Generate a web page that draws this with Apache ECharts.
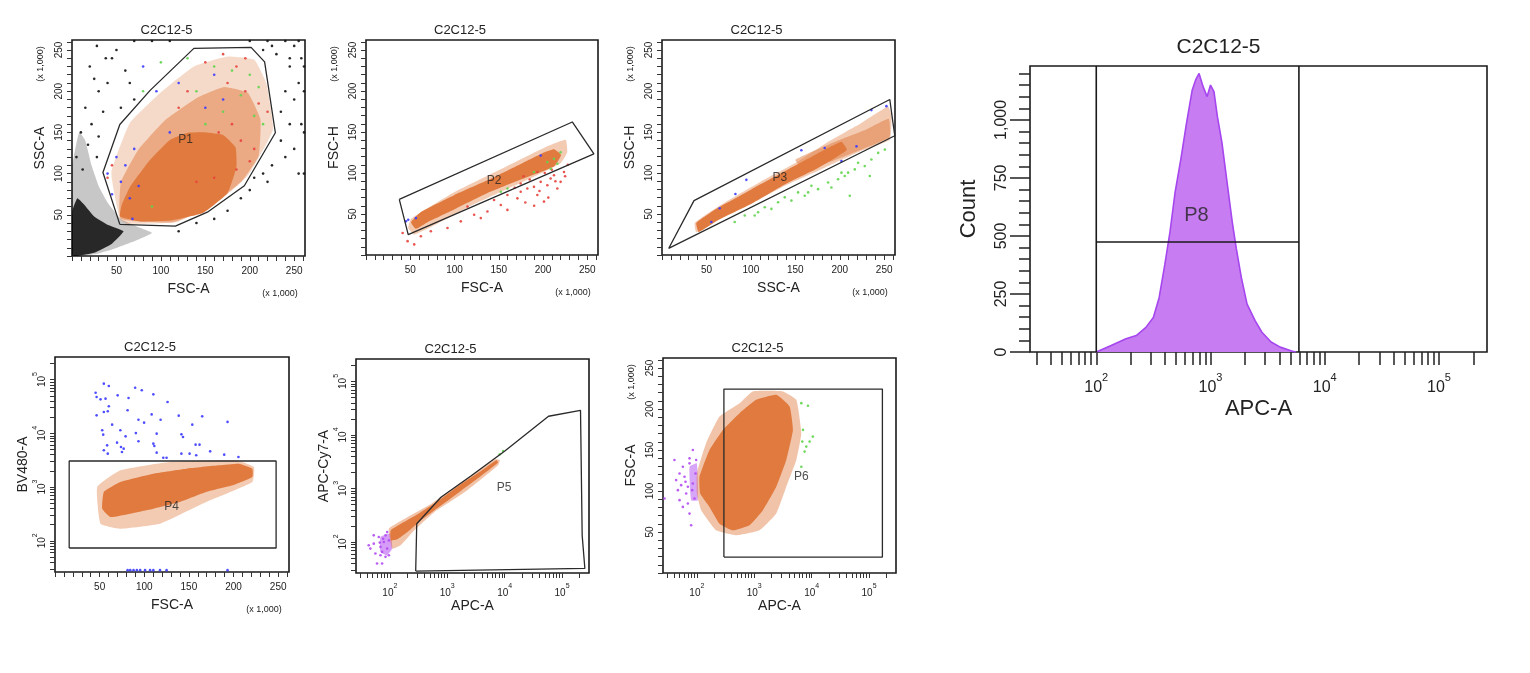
<!DOCTYPE html>
<html><head><meta charset="utf-8">
<script src="https://cdn.jsdelivr.net/npm/echarts@6/dist/echarts.min.js"></script>
<style>html,body{margin:0;padding:0;background:#fff}#c{width:1530px;height:673px}</style>
</head><body><div id="c"></div>
<script>
// ---------------- DATA ----------------
const sampleName = 'C2C12-5';
const xNames = ['FSC-A','FSC-A','SSC-A','FSC-A','APC-A','APC-A'];
const yNames = ['SSC-A','FSC-H','SSC-H','BV480-A','APC-Cy7-A','FSC-A'];
const xIsLog = [false,false,false,false,true,true];
const yIsLog = [false,false,false,true,true,false];
const gateNames = ['P1','P2','P3','P4','P5','P6'];
const linearTickLabels = [50,100,150,200,250];
const logTickExponents = [2,3,4,5];
const scaleNote = '(x 1,000)';

// Panel 1: FSC-A vs SSC-A (x1000)
const p1Gate = [[53.8,38.4],[34.8,101.4],[53.8,159.6],[87.9,201],[137.1,252],[201.5,253.2],[216.7,235.6],[228.8,149.6],[193.9,85.3],[152.3,53.2],[116.3,36.3]];
const p1Halo = [[53.8,45.2],[44.3,101.4],[65.2,161.6],[99.2,197.8],[137.1,229.9],[175,242],[205.3,238],[218.6,209.8],[226.1,153.6],[197.7,97.4],[159.8,65.3],[118.2,41.2],[61.4,39.2]];
const p1Mid = [[55,45.2],[55,89.4],[75,129.5],[105,165],[140.9,192],[171.2,205],[197.7,198],[212,165.7],[210,121.5],[190,89.4],[158,61.2],[114.4,41]];
const p1Core = [[54,48],[56,62],[65.2,83.7],[87.7,116.5],[110.2,140.8],[129.3,149.3],[150,150],[170,147],[184,132],[185,108],[175,76.5],[147.4,52.2],[110.2,43],[76.4,42]];
const p1DebrisHalo = [[0.5,0.5],[0.5,110],[8,150],[15,140],[22,110],[30,85],[40,65],[55,45],[75,35],[90,28],[70,18],[45,8],[25,2]];
const p1DebrisCore = [[0.5,0.5],[0.5,55],[6,70],[14,62],[25,48],[40,38],[58,30],[45,15],[25,4]];
const p1Black = [[20,230],[25,215],[30,200],[15,180],[35,175],[40,210],[45,240],[22,160],[30,145],[18,135],[10,150],[5,120],[12,105],[28,120],[38,240],[50,250],[60,225],[65,210],[28,255],[70,190],[55,180],
  [215,250],[230,245],[245,230],[255,210],[240,200],[250,190],[235,175],[225,255],[250,255],[258,160],[245,160],[235,140],[250,130],[240,120],[225,110],[215,100],[205,95],[200,80],[190,70],[220,90],[255,100],[245,240],[258,240],
  [120,30],[140,40],[160,45],[175,55],[70,261],[90,261],[110,261],[200,261],[220,261],[240,261],[255,261],[261,150],[261,200],[261,230],[261,100]];
const p1Blue = [[40,100],[50,120],[60,110],[55,90],[70,130],[45,75],[75,85],[80,230],[95,200],[120,210],[150,180],[160,220],[170,190],[110,150],[65,70],[68,45]];
const p1Green = [[100,235],[130,240],[160,230],[180,225],[200,220],[210,205],[190,195],[205,170],[215,160],[170,175],[150,160],[140,200],[90,60],[80,200]];
const p1Red = [[40,95],[45,110],[150,235],[170,245],[185,230],[195,200],[210,185],[220,175],[180,160],[165,150],[190,140],[205,130],[200,115],[185,105],[160,95],[140,90],[130,200],[120,180],[175,210],[195,240]];
const p1Label = [127.7,141.6];

// Panel 2: FSC-A vs FSC-H (x1000)
const p2Gate = [[37.6,67.9],[233.1,162.2],[257.5,123.3],[47.7,24.9]];
const p2Halo = [[47.7,32.9],[50.8,44],[99.6,76.5],[159.8,108.5],[204.9,132.5],[225.6,140.5],[227.4,125.3],[219.9,112],[174.8,88],[118.4,60],[73.3,34],[54.5,24.9]];
const p2Core = [[50.8,40],[62,52.5],[99.6,73],[137.2,91],[174.8,111],[201.1,125],[212.4,129],[220.5,122],[212.4,108],[174.8,92],[137.2,75.5],[99.6,55.5],[69.5,40],[56.4,32]];
const p2Red = [[41.4,26.9],[47,16.9],[54.5,12.9],[62,22.9],[73.3,28.9],[92.1,32.9],[107.1,41],[129.7,45],[137.2,53],[152.3,61],[159.8,55],[171.1,69.1],[174.8,77.1],[182.3,81.1],[189.8,83.1],[193.6,73.1],[197.4,89.2],[201.1,65.1],[204.9,85.1],[208.6,93.2],[212.4,97.2],[216.2,81.1],[219.9,89.2],[223.7,101.2],[193.6,101.2],[174.8,87.1],[159.8,73.1],[144.7,67.1],[122.2,49],[114.7,59],
  [185,92],[196,78],[206,70],[214,90],[225,96],[180,64],[168,82],[202,100],[190,60],[228,110],[210,104],[178,96]];
const p2Green = [[212.4,117.3],[216.2,111.2],[208.6,105.2],[189.8,101.2],[159.8,81.1],[152.3,77.1],[204.9,113.3],[219.9,125.3]];
const p2Blue = [[45.1,41],[56.4,45],[47.7,43],[197.4,121.3]];
const p2Label = [144.7,91.2];

// Panel 3: SSC-A vs SSC-H (x1000)
const p3Gate = [[7.5,8],[36,66.3],[256.3,189.6],[258.9,168.7],[261.9,145.4]];
const p3Halo = [[36.8,39],[66.8,61.5],[111.8,90],[153.1,114],[186.9,138],[224.4,161],[254.4,181],[258.2,168.7],[256.3,140.6],[224.4,127],[183.1,106.5],[138.1,84.5],[93.1,58.5],[55.5,39],[38.6,27.5]];
const p3Mid = [[150,116],[190,136],[230,153],[255,166],[256,144],[225,129],[190,114],[160,104]];
const p3Core = [[38.6,39],[63,57.5],[100.6,80],[138.1,102],[175.6,124],[201.9,138],[208,128],[175.6,106],[138.1,86],[100.6,62.5],[63,42.5],[41.3,28]];
const p3Green = [[81.8,40.2],[93.1,48.2],[104.3,48.2],[115.6,58.2],[130.6,64.3],[138.1,70.3],[145.6,66.3],[153.1,76.3],[160.6,72.3],[168.1,84.3],[175.6,80.3],[186.9,88.4],[190.6,82.3],[198.1,92.4],[205.6,96.4],[209.4,100.4],[211.3,72.3],[216.9,104.4],[220.6,112.4],[228.1,108.4],[235.6,116.5],[243.2,124.5],[250.7,128.5],[201.9,100.4],[164.4,76.3],[123.1,56.2],[108.1,52.2],[233.8,96.4]];
const p3Blue = [[64.9,57],[82.6,74.3],[94.9,91.6],[156.8,127.7],[183.1,130.5],[201.9,114.5],[218.8,132.5],[235.6,176.7],[252.5,181.5],[55.5,40.2]];
const p3Label = [132.5,94.4];

// Panel 4: FSC-A (x1000) vs BV480-A (log)
const p4Gate = [[15.9,73.6],[15.9,3055],[247.7,3055],[247.7,73.6]];
const p4Halo = [[47.3,1003],[73.2,2048],[128.7,2931],[202.6,3148],[222.9,2361],[221.1,1242],[169.3,527],[117.6,208],[73.2,168],[51,208]];
const p4Core = [[54.7,809],[73.2,1242],[110.2,1775],[147.1,2198],[184.1,2535],[206.3,2723],[221.1,2198],[221.1,1538],[198.9,1076],[169.3,809],[139.7,527],[110.2,396],[84.3,320],[62.1,277],[52.9,396]];
const p4Blue = [[45.5,57000],[46.6,47400],[54.7,83900],[60.3,75900],[51,42900],[56.6,44200],[70.2,50900],[82.4,45400],[89.8,70600],[97.2,63100],[110.2,53100],[126.1,38300],[46.6,21600],[60.3,31800],[54.7,24900],[59.1,25700],[81.3,26800],[93.5,17900],[99.8,15800],[108.3,22500],[118.3,17900],[138.6,21300],[153.8,14500],[164.9,20700],[193.3,16300],[52.9,11400],[54,9440],[64,14500],[73.2,11400],[79.1,8790],[90.6,10100],[113.9,9860],[141.6,9570],[143.4,8550],[157.5,6150],[161.9,6150],[173.8,4620],[58.4,5980],[69.5,6700],[73.9,5570],[76.9,5190],[93.5,7100],[110.2,6430],[111.3,5810],[113.9,4370],[141.6,4190],[150.8,4190],[158.2,3900],[189.6,4010],[205.5,3630],[54.7,4830],[59.1,4190],[75,4500],[121.3,3520],[125,3520],
  [81.3,28.5],[84.3,28.5],[88,28.5],[91.7,28.5],[95.4,28.5],[100.9,28.5],[106.5,28.5],[110.2,28.5],[117.6,28.5],[125,28.5],[193.3,28.5]];
const p4Label = [130.5,426];

// Panel 5: APC-A vs APC-Cy7-A (both log)
const p5Gate = [[282,28.6],[294,219],[776,684],[2618,1726],[10080,5023],[58210,22390],[209900,28900],[224400,133],[250000,32]];
const p5Halo = [[96,177],[202,291],[519,514],[1746,1297],[6730,3516],[8240,3420],[7690,2723],[2000,847],[593,361],[264,164],[154,86.7],[110,75.2]];
const p5Core = [[103,164],[176,235],[346,361],[776,637],[1746,1208],[3917,2138],[7194,3420],[7690,3050],[3917,1726],[1746,909],[776,478],[346,252],[202,153],[135,112],[105,107]];
const p5PurpleCore = [[68.6,124],[103,143],[110,75.2],[89.8,56.6],[68.6,65.2]];
const p5Purple = [[45.7,75.2],[52.4,93.1],[56,60.8],[64.1,124],[68.6,80.8],[73.3,65.2],[78.5,100],[84,133],[89.8,75.2],[96,107],[89.8,153],[59.8,39.6],[73.3,39.6],[52.4,133],[68.6,56.6],[84,52.7],[96,56.6],[42.8,86.7],[76.4,115],[66.7,97.3]];
const p5Green = [[8240,4360],[9420,5020]];
const p5Label = [9800,1050];

// Panel 6: APC-A (log) vs FSC-A (x1000)
const p6Gate = [[296,19.4],[296,224.3],[171000,224.3],[171000,19.4]];
const p6Halo = [[100,121.4],[145,158.2],[248,190.8],[555,207.1],[948,221.4],[3162,221.4],[5410,211.2],[6610,170.4],[5410,137.8],[3614,105.1],[2421,72.4],[1239,52],[485,45.9],[217,52],[119,76.5],[100,96.9]];
const p6Core = [[111,117.3],[166,150],[284,174.5],[555,194.9],[1084,211.2],[2421,217.3],[4133,203.1],[4721,174.5],[3614,137.8],[2421,105.1],[1416,76.5],[829,58.2],[425,52],[248,60.2],[166,80.6],[114,96.9]];
const p6PurpleCore = [[74.5,129.6],[100,133.7],[104,88.8],[79.6,88.8]];
const p6Purple = [[40.7,137.8],[43.6,113.3],[46.7,101],[49.9,121.4],[53.3,107.1],[57,129.6],[61,117.3],[65.2,96.9],[69.7,84.7],[74.5,133.7],[74.5,72.4],[79.6,58.2],[85.1,109.2],[91,90.8],[94.8,121.4],[97.3,137.8],[57,80.6],[49.9,88.8],[85.1,150],[69.7,105.1],[27.3,90.8],[74.5,139.8],[63.4,111.2],[83,101]];
const p6Green = [[6610,207.1],[8630,203.9],[10500,166.3],[7060,174.5],[6870,160.2],[8070,154.1],[9220,160.2],[6610,129.6],[7550,148]];
const p6Label = [6600,117.3];

// Histogram: APC-A vs Count
const histApc = [100,135,182,224,272,316,355,398,442,490,550,617,692,741,794,861,933,1000,1072,1148,1259,1396,1549,1679,1862,2089,2455,2818,3388,4074,5129,5600];
const histCount = [0,28,57,71,106,149,234,376,518,689,831,987,1129,1172,1200,1143,1100,1150,1122,1015,902,731,561,447,320,206,135,85,43,21,4,0];
const countTickLabels = [0,250,500,750,1000];
const p8Range = [100,5940];
const p8Level = 474;
const p8Label = [753,590];
const countMax = 1232;

// ---------------- STYLE / LAYOUT ----------------
const FONT = "'Liberation Sans', Arial, sans-serif";
const TXT = '#222';
const ORANGE = '#e07a3e';
const C = {black:'#111111', blue:'#3b3bff', green:'#62d44f', red:'#e5423c', purple:'#b24df2'};
const grids = [
  {left:72, top:40, width:233, height:216},
  {left:366, top:40, width:232, height:215},
  {left:662, top:40, width:233, height:215},
  {left:55, top:357, width:234, height:215},
  {left:356, top:359, width:233, height:214},
  {left:663, top:358, width:233, height:215},
  {left:1030, top:66, width:457, height:286}
];
const LIN_MAX = 262.144;
const LOG_RANGE = [1.42, 5.42];
const LOG_RANGE_WIDE = [1.41, 5.47];
const L10 = Math.log10;
const SMOOTH = 0.12;

function logTickValues(r){ const out=[]; for(let d=1; d<=5; d++) for(let k=1;k<=9;k++){ const v=L10(k*Math.pow(10,d)); if(v>=r[0]-1e-9 && v<=r[1]+1e-9) out.push(v);} return out; }
const linTickValues = []; for(let v=0; v<=260; v+=10) linTickValues.push(v);

function tf(pts, lx, ly){ return pts.map(p => [lx?L10(p[0]):p[0], ly?L10(p[1]):p[1]]); }

const supRichSmall = {b:{fontSize:10, color:TXT, fontFamily:FONT, lineHeight:15, verticalAlign:'bottom'}, s:{fontSize:7, color:TXT, fontFamily:FONT, lineHeight:8, verticalAlign:'top'}};
const supRichBig = {b:{fontSize:16, color:TXT, fontFamily:FONT, lineHeight:24, verticalAlign:'bottom'}, s:{fontSize:11, color:TXT, fontFamily:FONT, lineHeight:12, verticalAlign:'top'}};

const panels = [
  {gate:p1Gate, label:p1Label, layers:[[p1DebrisHalo,'#000',0.22],[p1DebrisCore,'#000',0.8],[p1Halo,ORANGE,0.28],[p1Mid,ORANGE,0.5],[p1Core,ORANGE,1]], dots:[[p1Black,C.black],[p1Red,C.red],[p1Green,C.green],[p1Blue,C.blue]]},
  {gate:p2Gate, label:p2Label, layers:[[p2Halo,ORANGE,0.4],[p2Core,ORANGE,1]], dots:[[p2Red,C.red],[p2Green,C.green],[p2Blue,C.blue]]},
  {gate:p3Gate, label:p3Label, layers:[[p3Halo,ORANGE,0.4],[p3Mid,ORANGE,0.5],[p3Core,ORANGE,1]], dots:[[p3Green,C.green],[p3Blue,C.blue]]},
  {gate:p4Gate, label:p4Label, layers:[[p4Halo,ORANGE,0.4],[p4Core,ORANGE,1]], dots:[[p4Blue,C.blue]]},
  {gate:p5Gate, label:p5Label, layers:[[p5PurpleCore,C.purple,0.55],[p5Halo,ORANGE,0.45],[p5Core,ORANGE,1]], dots:[[p5Purple,C.purple],[p5Green,C.green]]},
  {gate:p6Gate, label:p6Label, layers:[[p6PurpleCore,C.purple,0.5],[p6Halo,ORANGE,0.45],[p6Core,ORANGE,1]], dots:[[p6Purple,C.purple],[p6Green,C.green]]}
];

// ---------------- BUILD ----------------
const option = {backgroundColor:'#fff', animation:false, grid:[], xAxis:[], yAxis:[], series:[], graphic:[]};

grids.forEach(g => option.grid.push(Object.assign({show:true, borderColor:'#1a1a1a', borderWidth:1.6, backgroundColor:'transparent', containLabel:false}, g)));

function makeAxis(i, dim){
  const isX = dim==='x';
  const log = isX ? xIsLog[i] : yIsLog[i];
  const range = log ? ((isX && i>=4) ? LOG_RANGE_WIDE : LOG_RANGE) : [0, LIN_MAX];
  return {
    gridIndex:i, type:'value', min:range[0], max:range[1], position: isX ? 'bottom' : 'left',
    name: isX ? xNames[i] : yNames[i], nameLocation:'middle', nameGap: isX ? 26 : 25,
    nameTextStyle:{fontSize:14, color:TXT, fontFamily:FONT},
    axisLine:{show:false}, splitLine:{show:false},
    axisTick:{show:true, inside:false, length:5, lineStyle:{color:'#333', width:1}, customValues: log ? logTickValues(range) : linTickValues},
    axisLabel:{show:true, margin: isX ? 10 : 8, rotate: isX ? 0 : 90, fontSize:10, color:TXT, fontFamily:FONT,
      customValues: log ? logTickExponents : linearTickLabels,
      formatter: log ? (v => '{b|10}{s|' + Math.round(v) + '}') : (v => String(Math.round(v))),
      rich: supRichSmall}
  };
}

panels.forEach((p, i) => {
  option.xAxis.push(makeAxis(i,'x'));
  option.yAxis.push(makeAxis(i,'y'));
  const lx = xIsLog[i], ly = yIsLog[i];
  p.layers.forEach(([pts, color, op]) => {
    const data = tf(pts, lx, ly);
    option.series.push({type:'custom', xAxisIndex:i, yAxisIndex:i, silent:true, clip:true, data:data,
      renderItem:(params, api) => {
        if (params.dataIndex !== 0) return null;
        const points = data.map(d => api.coord(d));
        return {type:'polygon', shape:{points:points, smooth:SMOOTH}, style:{fill:color, opacity:op}};
      }});
  });
  p.dots.forEach(([pts, color]) => {
    option.series.push({type:'scatter', xAxisIndex:i, yAxisIndex:i, silent:true, symbol:'circle', symbolSize:2.6,
      itemStyle:{color:color, opacity:0.9}, data: tf(pts, lx, ly), clip:true});
  });
  const gd = tf(p.gate, lx, ly); gd.push(gd[0]);
  option.series.push({type:'line', xAxisIndex:i, yAxisIndex:i, silent:true, symbol:'none', data:gd, z:5,
    lineStyle:{color:'#2a2a2a', width:1.3}});
  option.series.push({type:'scatter', xAxisIndex:i, yAxisIndex:i, silent:true, symbolSize:0, z:6,
    data:tf([p.label], lx, ly),
    label:{show:true, position:'inside', formatter:gateNames[i], fontSize:12, color:TXT, fontFamily:FONT}});

  const g = grids[i];
  option.graphic.push({type:'text', x:g.left + g.width/2 - 22, y:g.top - 10, silent:true,
    style:{text:sampleName, fontSize:13, fill:TXT, fontFamily:FONT, align:'center', verticalAlign:'middle'}});
  if (!lx) option.graphic.push({type:'text', x:g.left + g.width - 25, y:g.top + g.height + 38, silent:true,
    style:{text:scaleNote, fontSize:9, fill:TXT, fontFamily:FONT, align:'center', verticalAlign:'middle'}});
  if (!ly) option.graphic.push({type:'text', x:g.left - 31, y:g.top + 24, rotation:Math.PI/2, silent:true,
    style:{text:scaleNote, fontSize:9, fill:TXT, fontFamily:FONT, align:'center', verticalAlign:'middle'}});
});

// Histogram panel
const hg = grids[6];
option.xAxis.push({gridIndex:6, type:'value', min:LOG_RANGE[0], max:LOG_RANGE[1], position:'bottom', name:'APC-A', nameLocation:'middle', nameGap:46,
  nameTextStyle:{fontSize:22, color:TXT, fontFamily:FONT}, axisLine:{show:false}, splitLine:{show:false},
  axisTick:{show:true, length:13, lineStyle:{color:'#222', width:1.5}, customValues:logTickValues(LOG_RANGE)},
  axisLabel:{margin:20, fontSize:16, color:TXT, fontFamily:FONT, customValues:logTickExponents,
    formatter:v => '{b|10}{s|' + Math.round(v) + '}', rich:supRichBig}});
const countMinor = []; for(let v=0; v<=1200; v+=50) countMinor.push(v);
option.yAxis.push({gridIndex:6, type:'value', min:0, max:countMax, position:'left', name:'Count', nameLocation:'middle', nameGap:50,
  nameTextStyle:{fontSize:22, color:TXT, fontFamily:FONT}, axisLine:{show:false}, splitLine:{show:false},
  axisTick:{show:true, length:11, lineStyle:{color:'#222', width:1.5}, customValues:countMinor},
  axisLabel:{margin:20, rotate:90, fontSize:16, color:TXT, fontFamily:FONT, customValues:countTickLabels,
    formatter:v => v.toLocaleString('en-US')}});
option.yAxis.push({gridIndex:6, type:'value', min:0, max:countMax, position:'left', offset:0, axisLine:{show:false}, splitLine:{show:false},
  axisTick:{show:true, length:20, lineStyle:{color:'#222', width:1.5}, customValues:countTickLabels},
  axisLabel:{show:false}});
option.series.push({type:'line', xAxisIndex:6, yAxisIndex:6, silent:true, symbol:'none',
  data: histApc.map((v,k) => [L10(v), histCount[k]]),
  lineStyle:{color:'#a546ee', width:1.6}, areaStyle:{color:'#c77df1', opacity:1, origin:'start'}});
const p8lo = L10(p8Range[0]), p8hi = L10(p8Range[1]);
[[[p8lo,0],[p8lo,countMax]], [[p8hi,0],[p8hi,countMax]], [[p8lo,p8Level],[p8hi,p8Level]]].forEach(seg => {
  option.series.push({type:'line', xAxisIndex:6, yAxisIndex:6, silent:true, symbol:'none', data:seg, z:5,
    lineStyle:{color:'#1a1a1a', width:1.6}});
});
option.series.push({type:'scatter', xAxisIndex:6, yAxisIndex:6, silent:true, symbolSize:0, z:6,
  data:[[L10(p8Label[0]), p8Label[1]]],
  label:{show:true, position:'inside', formatter:'P8', fontSize:20, color:TXT, fontFamily:FONT}});
option.graphic.push({type:'text', x:hg.left + hg.width/2 - 40, y:hg.top - 19, silent:true,
  style:{text:sampleName, fontSize:21, fill:TXT, fontFamily:FONT, align:'center', verticalAlign:'middle'}});

const chart = echarts.init(document.getElementById('c'), null, {renderer:'canvas'});
chart.setOption(option);
</script>
</body></html>
